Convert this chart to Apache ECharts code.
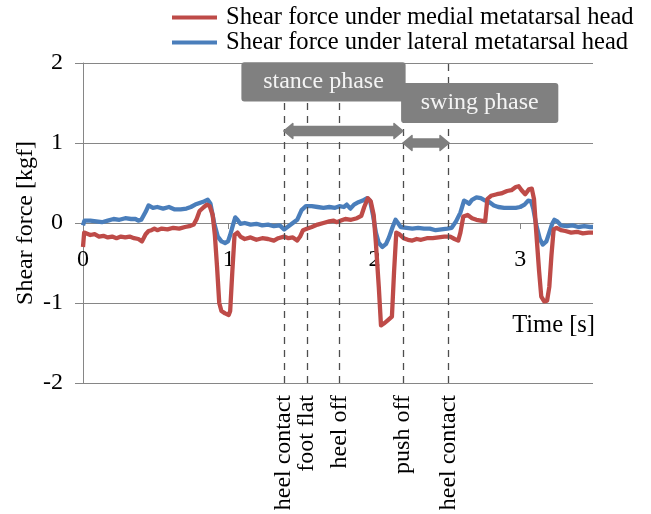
<!DOCTYPE html>
<html>
<head>
<meta charset="utf-8">
<script src="https://cdn.jsdelivr.net/npm/echarts/dist/echarts.min.js"></script>
<style>
html,body{margin:0;padding:0;background:#fff;}
#chart{width:651px;height:514px;}
</style>
</head>
<body>
<div id="chart"></div>
<script>
// ---------------- data ----------------
const medialName = 'Shear force under medial metatarsal head';
const lateralName = 'Shear force under lateral metatarsal head';

const lateralTime = [0.000,0.010,0.05,0.09,0.13,0.17,0.21,0.25,0.29,0.33,0.36,0.38,0.40,0.43,0.45,0.48,0.51,0.55,0.59,0.63,0.67,0.71,0.74,0.77,0.80,0.83,0.856,0.875,0.90,0.925,0.95,0.975,0.995,1.01,1.03,1.045,1.06,1.08,1.11,1.15,1.19,1.23,1.27,1.31,1.35,1.38,1.41,1.44,1.47,1.50,1.53,1.57,1.61,1.65,1.69,1.73,1.76,1.79,1.81,1.835,1.86,1.89,1.92,1.95,1.97,1.99,2.01,2.03,2.055,2.08,2.10,2.125,2.145,2.165,2.18,2.22,2.26,2.30,2.34,2.38,2.42,2.46,2.50,2.53,2.56,2.59,2.615,2.635,2.65,2.67,2.70,2.73,2.76,2.79,2.82,2.85,2.89,2.93,2.97,3.00,3.03,3.055,3.075,3.09,3.11,3.135,3.155,3.18,3.20,3.22,3.235,3.255,3.28,3.32,3.36,3.40,3.44,3.48,3.50];
const lateralForce = [-0.03,0.03,0.03,0.02,0.01,0.03,0.05,0.04,0.06,0.05,0.05,0.03,0.04,0.14,0.22,0.19,0.20,0.18,0.20,0.17,0.17,0.18,0.20,0.23,0.25,0.27,0.29,0.24,0.00,-0.17,-0.23,-0.25,-0.23,-0.15,-0.02,0.07,0.04,-0.01,0.00,-0.02,-0.01,-0.03,-0.02,-0.04,-0.03,-0.08,-0.04,0.00,0.04,0.16,0.21,0.21,0.20,0.19,0.20,0.19,0.21,0.20,0.23,0.18,0.23,0.26,0.28,0.31,0.28,0.10,-0.12,-0.25,-0.30,-0.26,-0.18,-0.05,0.04,-0.01,-0.05,-0.06,-0.07,-0.06,-0.07,-0.07,-0.09,-0.08,-0.07,-0.06,0.02,0.13,0.28,0.26,0.24,0.29,0.32,0.31,0.28,0.26,0.22,0.20,0.19,0.19,0.19,0.20,0.23,0.28,0.27,0.18,-0.02,-0.20,-0.27,-0.23,-0.12,-0.01,0.04,0.02,-0.03,-0.04,-0.03,-0.05,-0.04,-0.05,-0.05];

const medialTime = [0.000,0.008,0.02,0.05,0.08,0.11,0.14,0.17,0.20,0.23,0.26,0.29,0.32,0.35,0.38,0.405,0.43,0.45,0.47,0.49,0.51,0.54,0.58,0.62,0.66,0.70,0.73,0.76,0.78,0.80,0.83,0.85,0.87,0.89,0.905,0.92,0.935,0.95,0.975,1.00,1.01,1.025,1.04,1.06,1.08,1.11,1.15,1.19,1.23,1.27,1.31,1.34,1.38,1.41,1.44,1.47,1.49,1.51,1.54,1.57,1.61,1.65,1.69,1.72,1.74,1.77,1.80,1.84,1.88,1.91,1.93,1.955,1.975,1.995,2.01,2.03,2.045,2.07,2.095,2.12,2.135,2.15,2.17,2.20,2.23,2.26,2.29,2.32,2.36,2.40,2.44,2.48,2.52,2.55,2.575,2.59,2.61,2.64,2.67,2.70,2.73,2.76,2.775,2.80,2.84,2.87,2.91,2.94,2.97,2.99,3.01,3.035,3.06,3.08,3.095,3.11,3.13,3.145,3.165,3.185,3.20,3.215,3.23,3.25,3.28,3.31,3.35,3.39,3.43,3.47,3.50];
const medialForce = [-0.30,-0.12,-0.11,-0.15,-0.14,-0.17,-0.16,-0.18,-0.17,-0.19,-0.17,-0.18,-0.17,-0.19,-0.20,-0.23,-0.14,-0.10,-0.09,-0.07,-0.09,-0.07,-0.08,-0.06,-0.07,-0.05,-0.04,-0.02,0.05,0.15,0.20,0.23,0.21,0.10,-0.15,-0.55,-1.00,-1.10,-1.13,-1.15,-1.10,-0.60,-0.15,-0.12,-0.17,-0.20,-0.18,-0.21,-0.19,-0.20,-0.22,-0.19,-0.17,-0.19,-0.18,-0.22,-0.17,-0.09,-0.07,-0.05,-0.02,0.00,0.02,0.03,0.01,0.03,0.05,0.04,0.06,0.09,0.20,0.31,0.27,0.10,-0.25,-0.80,-1.28,-1.25,-1.21,-1.17,-0.60,-0.12,-0.14,-0.19,-0.21,-0.22,-0.20,-0.21,-0.19,-0.19,-0.18,-0.17,-0.17,-0.20,-0.22,-0.12,0.08,0.10,0.06,0.04,0.03,0.02,0.30,0.34,0.36,0.37,0.40,0.41,0.45,0.46,0.41,0.36,0.42,0.43,0.30,-0.10,-0.60,-0.92,-0.98,-0.97,-0.80,-0.40,-0.08,-0.06,-0.09,-0.10,-0.12,-0.11,-0.13,-0.12,-0.12];

const eventTimes = [1.378, 1.536, 1.763, 2.196, 2.512];
const eventLabels = ['heel contact', 'foot flat', 'heel off', 'push off', 'heel contact'];
const phaseLabels = ['stance phase', 'swing phase'];
const xTicks = [0, 1, 2, 3];
const yTicks = [-2, -1, 0, 1, 2];

// ---------------- chart ----------------
const FONT = '"Liberation Serif", "Times New Roman", serif';
const GRAY = '#868686';
const zip = (a, b) => a.map((t, i) => [t, b[i]]);

const GRID = {left: 83, right: 58, top: 63, bottom: 131};
const yMin = yTicks[0], yMax = yTicks[yTicks.length - 1];
const plotH = 514 - GRID.top - GRID.bottom;
// move the time axis up so that it crosses the force axis at 0
const xAxisOffset = -plotH * (0 - yMin) / (yMax - yMin);

const chart = echarts.init(document.getElementById('chart'), null, {renderer: 'canvas'});

chart.setOption({
  animation: false,
  backgroundColor: '#ffffff',
  grid: Object.assign({containLabel: false}, GRID),
  legend: {
    data: [medialName, lateralName],
    orient: 'vertical',
    left: 172, top: 5,
    padding: 0,
    itemGap: 0,
    icon: 'rect',
    itemWidth: 45, itemHeight: 4,
    textStyle: {fontFamily: FONT, fontSize: 24.6, color: '#000', lineHeight: 24, padding: [0, 0, 0, 4]}
  },
  xAxis: {
    type: 'value', min: 0, max: 3.5,
    offset: xAxisOffset,
    axisLine: {onZero: false, lineStyle: {color: GRAY, width: 1}},
    axisTick: {show: true, length: 6, customValues: xTicks, lineStyle: {color: GRAY}},
    axisLabel: {customValues: xTicks, margin: 25, fontFamily: FONT, fontSize: 24, color: '#000'},
    splitLine: {show: false}
  },
  yAxis: {
    type: 'value', min: yMin, max: yMax, interval: 1,
    name: 'Shear force [kgf]', nameLocation: 'middle', nameGap: 45,
    nameMoveOverlap: false,
    nameTextStyle: {fontFamily: FONT, fontSize: 24, color: '#000'},
    axisLine: {show: true, lineStyle: {color: GRAY, width: 1}},
    axisTick: {show: true, length: 8, lineStyle: {color: GRAY}},
    axisLabel: {margin: 20, fontFamily: FONT, fontSize: 24, color: '#000'},
    splitLine: {show: true, lineStyle: {color: GRAY, width: 1}}
  },
  series: [
    {
      name: '__events', type: 'line', data: [], z: 1, silent: true,
      markLine: {
        silent: true, symbol: ['none', 'none'], label: {show: false},
        lineStyle: {color: '#4d4d4d', width: 1.3, type: [7, 6]},
        data: eventTimes.map(t => ({xAxis: t}))
      }
    },
    {
      name: lateralName, type: 'line', data: zip(lateralTime, lateralForce),
      showSymbol: false, symbol: 'none', z: 3,
      color: '#4a7ebb', lineStyle: {width: 4.3, color: '#4a7ebb', join: 'round'}
    },
    {
      name: medialName, type: 'line', data: zip(medialTime, medialForce),
      showSymbol: false, symbol: 'none', z: 4,
      color: '#be4b48', lineStyle: {width: 4.3, color: '#be4b48', join: 'round'}
    }
  ]
});

// ---------------- annotations ----------------
const P = (t, v) => chart.convertToPixel({gridIndex: 0}, [t, v]);
const BOX = '#808080';
const ARROW = '#7f7f7f';
const g = [];

function box(t0, v0, t1, v1, text) {
  const a = P(t0, v0), b = P(t1, v1);
  g.push({
    type: 'rect', z: 100,
    shape: {x: a[0], y: a[1], width: b[0] - a[0], height: b[1] - a[1], r: 3},
    style: {fill: BOX}
  });
  g.push({
    type: 'text', z: 101,
    x: (a[0] + b[0]) / 2, y: (a[1] + b[1]) / 2,
    style: {text: text, font: '24px ' + FONT, fill: '#f4f4f4',
            align: 'center', verticalAlign: 'middle', textAlign: 'center', textVerticalAlign: 'middle'}
  });
}
function arrow(t0, t1, v, half, headHalf) {
  const a = P(t0, v), b = P(t1, v);
  const y = a[1], x0 = a[0], x1 = b[0], hl = 9;
  g.push({
    type: 'polygon', z: 100,
    shape: {points: [
      [x0, y], [x0 + hl, y - headHalf], [x0 + hl, y - half], [x1 - hl, y - half], [x1 - hl, y - headHalf],
      [x1, y], [x1 - hl, y + headHalf], [x1 - hl, y + half], [x0 + hl, y + half], [x0 + hl, y + headHalf]
    ]},
    style: {fill: ARROW, stroke: ARROW, lineWidth: 1.5, lineJoin: 'round'}
  });
}

box(1.087, 2.01, 2.214, 1.52, phaseLabels[0]);
box(2.183, 1.75, 3.262, 1.25, phaseLabels[1]);
arrow(eventTimes[0], eventTimes[3], 1.15, 4.5, 7.5);
arrow(eventTimes[3], eventTimes[4], 1.0, 4, 7.5);

eventTimes.forEach((t, i) => {
  const p = P(t, yMin);
  g.push({
    type: 'text', z: 100,
    x: p[0], y: p[1] + 12, rotation: Math.PI / 2,
    style: {text: eventLabels[i], font: '24px ' + FONT, fill: '#000',
            align: 'right', verticalAlign: 'middle', textAlign: 'right', textVerticalAlign: 'middle'}
  });
});

const tp = P(3.5, -1.28);
g.push({
  type: 'text', z: 100, x: tp[0] + 2, y: tp[1],
  style: {text: 'Time [s]', font: '24.5px ' + FONT, fill: '#000',
          align: 'right', verticalAlign: 'middle', textAlign: 'right', textVerticalAlign: 'middle'}
});

chart.setOption({graphic: g});
</script>
</body>
</html>
